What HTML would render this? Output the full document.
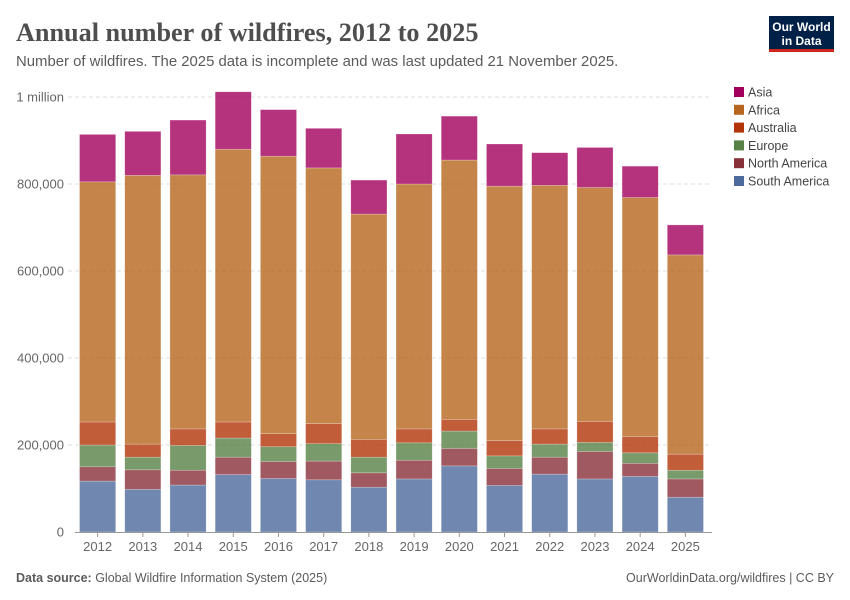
<!DOCTYPE html>
<html><head><meta charset="utf-8">
<style>
body{margin:0;background:#fff;font-family:"Liberation Sans",sans-serif;}
#wrap{position:relative;width:850px;height:600px;overflow:hidden;}
</style></head>
<body>
<div id="wrap">
<svg id="chart" width="850" height="600" xmlns="http://www.w3.org/2000/svg">
  <text x="16" y="41" font-family="Liberation Serif, serif" font-size="26.2" font-weight="bold" fill="#4e4e4e">Annual number of wildfires, 2012 to 2025</text>
  <text x="16" y="66" font-size="14.9" fill="#5b5b5b">Number of wildfires. The 2025 data is incomplete and was last updated 21 November 2025.</text>
  <g>
    <rect x="769" y="16" width="65" height="36" fill="#002147"/>
    <rect x="769" y="49" width="65" height="3" fill="#ce261e"/>
    <text x="801.5" y="31" text-anchor="middle" font-size="12" font-weight="bold" fill="#fff">Our World</text>
    <text x="801.5" y="45" text-anchor="middle" font-size="12" font-weight="bold" fill="#fff">in Data</text>
  </g>
  <g id="grid"></g>
  <g id="yticks"></g>
  <g id="bars"></g>
  <g id="xticks"></g>
  <g id="legend"></g>
  <text x="16" y="582" font-size="12.5" fill="#5b5b5b"><tspan font-weight="bold">Data source:</tspan> Global Wildfire Information System (2025)</text>
  <text x="834" y="582" text-anchor="end" font-size="12.5" fill="#5b5b5b">OurWorldinData.org/wildfires | CC BY</text>
</svg>
</div>
<script>
const years = ["2012","2013","2014","2015","2016","2017","2018","2019","2020","2021","2022","2023","2024","2025"];
const southAmerica = [117,98,108,132,123,120,103,122,152,107,133,122,128,80];
const northAmerica = [33,45,34,40,39,43,33,43,40,39,39,63,30,42];
const europe = [50,29,57,44,34,40,36,40,40,29,30,21,24,20];
const australia = [53,30,38,37,30,46,41,32,27,35,35,48,37,37];
const africa = [552,618,584,627,638,588,518,563,596,585,560,538,550,458];
const asia = [109,101,126,132,107,91,78,115,101,97,75,92,72,69];
const yTickValues = [0,200,400,600,800,1000];
const yTickLabels = ["0","200,000","400,000","600,000","800,000","1 million"];
const seriesNames = ["South America","North America","Europe","Australia","Africa","Asia"];
const seriesColors = ["#4c6a9c","#883039","#578145","#b13507","#b5651d","#a2005c"];
const seriesData = [southAmerica,northAmerica,europe,australia,africa,asia];

const NS="http://www.w3.org/2000/svg";
const x0=75,x1=708,yBase=532,yTop=97,maxV=1000;
const step=(x1-x0)/years.length, bw=step*0.8;
function xC(i){return x0+step*(i+0.5);}
function yS(v){return yBase-(v/maxV)*(yBase-yTop);}
function mk(tag,attrs,parent){const e=document.createElementNS(NS,tag);for(const k in attrs)e.setAttribute(k,attrs[k]);parent.appendChild(e);return e;}

const grid=document.getElementById('grid'), yt=document.getElementById('yticks');
yTickValues.forEach((v,i)=>{
  if(v>0){
    const l=mk('line',{x1:68,x2:712,y1:yS(v),y2:yS(v),stroke:'#ddd','stroke-dasharray':'4,3'},grid);
    
    
  }
  const t=mk('text',{x:64,y:yS(v)+4.5,'text-anchor':'end','font-size':13,fill:'#666'},yt);
  t.textContent=yTickLabels[i];
  
  
});

const bars=document.getElementById('bars');
years.forEach((yr,i)=>{
  let cum=0;
  seriesData.forEach((s,k)=>{
    const v=s[i];
    const r=mk('rect',{x:xC(i)-bw/2,y:yS(cum+v),width:bw,height:yS(cum)-yS(cum+v),fill:seriesColors[k],'fill-opacity':0.8,stroke:'#fff','stroke-opacity':0.4,'stroke-width':0.6},bars);
    
    
    cum+=v;
  });
});

const xt=document.getElementById('xticks');
const ax=mk('line',{x1:75,x2:712,y1:yBase+0.5,y2:yBase+0.5,stroke:'#999'},xt);


years.forEach((yr,i)=>{
  mk('line',{x1:xC(i),x2:xC(i),y1:yBase,y2:yBase+5,stroke:'#999'},xt);
  const t=mk('text',{x:xC(i),y:551,'text-anchor':'middle','font-size':13,fill:'#666'},xt);
  t.textContent=yr;
  
  
});

const lg=document.getElementById('legend');
for(let j=0;j<6;j++){
  const k=5-j, y=92+j*17.8;
  const g=mk('g',{},lg);
  
  
  mk('rect',{x:734,y:y-5,width:10,height:10,fill:seriesColors[k]},g);
  const t=mk('text',{x:748,y:y+4.5,'font-size':12.5,fill:'#444'},g);
  t.textContent=seriesNames[k];
}
</script>
</body></html>
